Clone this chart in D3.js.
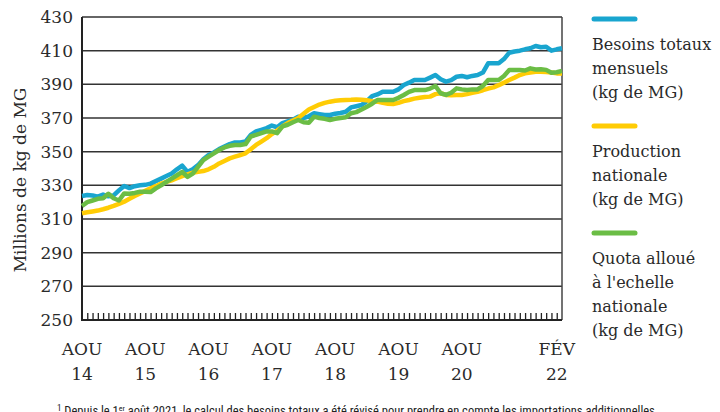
<!DOCTYPE html>
<html>
<head>
<meta charset="utf-8">
<script src="https://cdn.jsdelivr.net/npm/d3@7"></script>
<style>
  body { margin: 0; background: #fff; }
  svg { display: block; }
  .lbl { font-family: "DejaVu Serif", serif; fill: #2a2a2a; }
</style>
</head>
<body>
<div id="chart"></div>
<script>
const FRAME_WIDTH = 720;
const FRAME_HEIGHT = 412;
const MARGINS = {left: 82, right: 158, top: 17, bottom: 92};

// months since AOU 2014 (0 = aout 2014 ... 91 = mars 2022)
const x_labels = [
  {month: 0, top: "AOU", bottom: "14"},
  {month: 12, top: "AOU", bottom: "15"},
  {month: 24, top: "AOU", bottom: "16"},
  {month: 36, top: "AOU", bottom: "17"},
  {month: 48, top: "AOU", bottom: "18"},
  {month: 60, top: "AOU", bottom: "19"},
  {month: 72, top: "AOU", bottom: "20"},
  {month: 90, top: "FÉV", bottom: "22"}
];
const y_ticks = [250, 270, 290, 310, 330, 350, 370, 390, 410, 430];

const besoins = [
  323.7, 324.3, 324, 323.3, 324.5, 323.5, 324, 327, 329.6, 328.4,
  329.5, 330, 330.3, 331, 332.5, 334, 335.5, 337, 339.5, 341.7,
  338, 339.5, 342, 345.5, 348, 349.5, 351.5, 353, 354.5, 355.5,
  355.5, 356, 360, 362, 363, 364, 365.5, 364.5, 367, 368,
  369, 370.8, 370, 371, 372.8, 372.3, 371.8, 371.8, 372.5, 373,
  373.7, 376.3, 377, 377.7, 380, 383, 384, 385.6, 385.6, 385.6,
  387, 389.6, 391, 392.6, 392.6, 392.6, 394, 395.5, 393, 391.6,
  392.5, 394.5, 395, 394.2, 395, 395.5, 397, 402.5, 402.5, 402.5,
  405, 408.8, 409.5, 410, 410.8, 411.4, 412.8, 412, 412.3, 410,
  410.8, 411.4
];
const production = [
  313.4, 314, 314.5, 315, 315.8, 316.7, 317.8, 319, 320.3, 322,
  323.7, 325.2, 326.7, 328.2, 329.5, 331, 332, 333, 334.2, 335.5,
  336.5, 337.5, 338, 338.5, 339.5, 341, 343, 344.5, 346, 347,
  348, 349, 351.5, 354, 356, 358, 360.5, 362.5, 365, 367,
  368.5, 370, 372.5, 375, 376.5, 378, 379, 379.7, 380.2, 380.5,
  380.7, 380.8, 381, 380.8, 380.5, 380, 379.7, 379, 378.5, 378.3,
  379, 380, 380.7, 381.5, 382, 382.5, 382.7, 384.2, 384.7, 383.7,
  383.5, 383.7, 383.7, 384.2, 385, 385.6, 386.5, 387.5, 388.2, 389.5,
  391, 392.6, 394, 395.5, 396.5, 397, 397.5, 397.5, 397.3, 397,
  396.5, 396.5
];
const quota = [
  317.7, 320, 321, 322, 322.3, 325, 322.3, 321, 325.2, 325,
  325.5, 326.2, 326.2, 326, 328.2, 330, 332, 334, 336, 338,
  335, 337, 341, 345, 347, 349, 351, 352.5, 353.5, 354,
  354, 354.5, 359, 360, 361, 362, 362, 361, 365, 366,
  367.5, 368.8, 367.5, 367.2, 370.8, 370, 369.5, 368.8, 369.5, 370,
  370.4, 372.8, 373.5, 375, 376.7, 378.5, 380.7, 380.7, 380.7, 380.7,
  382, 383.7, 385.5, 386.6, 386.6, 386.6, 387.5, 389, 384.7, 383.7,
  385, 387.6, 387, 386.6, 387, 387, 389, 392.6, 392.6, 392.6,
  395, 398.5, 398.5, 398.5, 398.2, 399.5, 398.8, 399, 398.6, 396.9,
  397.2, 398
];

const series = [
  {name: ["Besoins totaux", "mensuels", "(kg de MG)"], values: besoins, color: "#19a5cf"},
  {name: ["Production", "nationale", "(kg de MG)"], values: production, color: "#ffcc05"},
  {name: ["Quota alloué", "à l'echelle", "nationale", "(kg de MG)"], values: quota, color: "#6bbd45"}
];

const SVG = d3.select("#chart")
  .append("svg")
    .attr("width", FRAME_WIDTH)
    .attr("height", FRAME_HEIGHT);

const PLOT_W = FRAME_WIDTH - MARGINS.left - MARGINS.right;
const PLOT_H = FRAME_HEIGHT - MARGINS.top - MARGINS.bottom;

const x = d3.scaleLinear().domain([0, 91]).range([MARGINS.left, MARGINS.left + PLOT_W]);
const y = d3.scaleLinear().domain([250, 430]).range([MARGINS.top + PLOT_H, MARGINS.top]);

// grid lines
SVG.append("g")
  .selectAll("line")
  .data(y_ticks)
  .enter()
  .append("line")
    .attr("x1", x(0))
    .attr("x2", x(91))
    .attr("y1", (d) => y(d))
    .attr("y2", (d) => y(d))
    .attr("stroke", "#333")
    .attr("stroke-width", 1.5);

// right border
SVG.append("line")
  .attr("x1", x(91)).attr("x2", x(91))
  .attr("y1", y(430)).attr("y2", y(250))
  .attr("stroke", "#444").attr("stroke-width", 1.5);

// y axis labels
const yAxis = SVG.append("g")
  .attr("transform", "translate(" + MARGINS.left + ",0)")
  .call(d3.axisLeft(y).tickValues(y_ticks).tickSize(0).tickPadding(9));
yAxis.select(".domain").remove();
yAxis.selectAll("text")
  .attr("class", "lbl")
  .style("font-size", "17px")
  .attr("fill", "#2a2a2a");

// left axis line
SVG.append("line")
  .attr("x1", x(0)).attr("x2", x(0))
  .attr("y1", y(430)).attr("y2", y(250) + 1)
  .attr("stroke", "#222").attr("stroke-width", 2);

// monthly ticks at the bottom
const xAxis = SVG.append("g")
  .attr("transform", "translate(0," + y(250) + ")")
  .call(d3.axisTop(x).tickValues(d3.range(1, 91)).tickSize(7).tickFormat(""));
xAxis.select(".domain").remove();
xAxis.selectAll("line").attr("stroke", "#222").attr("stroke-width", 1.3);
SVG.append("line")
  .attr("x1", x(0)).attr("x2", x(91))
  .attr("y1", y(250)).attr("y2", y(250))
  .attr("stroke", "#222").attr("stroke-width", 2);

// x labels
const xl = SVG.append("g").selectAll("g")
  .data(x_labels)
  .enter()
  .append("g");
xl.append("text")
  .attr("class", "lbl")
  .attr("x", (d) => x(d.month))
  .attr("y", 355)
  .attr("text-anchor", "middle")
  .style("font-size", "17px")
  .text((d) => d.top);
xl.append("text")
  .attr("class", "lbl")
  .attr("x", (d) => x(d.month))
  .attr("y", 380)
  .attr("text-anchor", "middle")
  .style("font-size", "17px")
  .text((d) => d.bottom);

// y title
SVG.append("text")
  .attr("class", "lbl")
  .attr("transform", "translate(26,180) rotate(-90)")
  .attr("text-anchor", "middle")
  .style("font-size", "17px")
  .text("Millions de kg de MG");

// lines
const line = d3.line()
  .x((d, i) => x(i))
  .y((d) => y(d));

SVG.append("g")
  .selectAll("path")
  .data(series)
  .enter()
  .append("path")
    .attr("d", (d) => line(d.values))
    .attr("fill", "none")
    .attr("stroke", (d) => d.color)
    .attr("stroke-width", 4.5)
    .attr("stroke-linejoin", "round");

// legend
const LEG_X = 592;
const legend_top = [19, 126, 233];
series.forEach((s, k) => {
  SVG.append("line")
    .attr("x1", LEG_X + 2).attr("x2", LEG_X + 43)
    .attr("y1", legend_top[k]).attr("y2", legend_top[k])
    .attr("stroke", s.color)
    .attr("stroke-width", 5)
    .attr("stroke-linecap", "round");
  s.name.forEach((t, j) => {
    SVG.append("text")
      .attr("class", "lbl")
      .attr("x", LEG_X)
      .attr("y", legend_top[k] + 31 + j * 24)
      .style("font-size", "16px")
      .text(t);
  });
});

// footnote (partly below the frame, as in the original)
SVG.append("text")
  .attr("x", 57)
  .attr("y", 415)
  .style("font-family", "'Liberation Sans Narrow', 'Roboto Condensed', 'Arial Narrow', sans-serif")
  .style("font-stretch", "condensed")
  .style("font-size", "12.5px")
  .attr("fill", "#222")
  .html("<tspan font-size='9' dy='-4'>1</tspan><tspan dy='4'> Depuis le 1</tspan><tspan font-size='8' dy='-4'>er</tspan><tspan dy='4'> août 2021, le calcul des besoins totaux a été révisé pour prendre en compte les importations additionnelles</tspan>");
</script>
</body>
</html>
